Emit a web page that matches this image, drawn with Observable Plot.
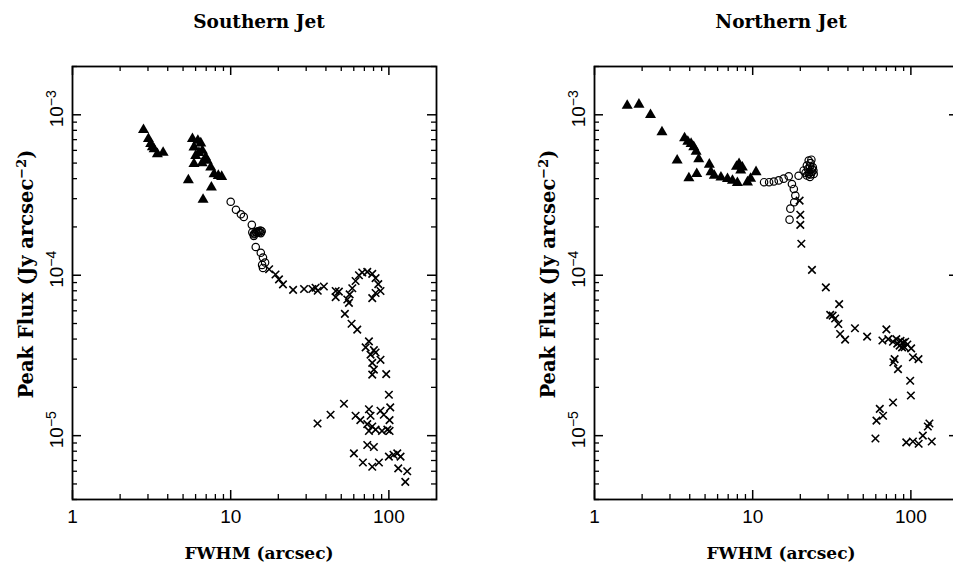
<!DOCTYPE html>
<html>
<head>
<meta charset="utf-8">
<script src="https://cdn.jsdelivr.net/npm/d3@7"></script>
<script src="https://cdn.jsdelivr.net/npm/@observablehq/plot@0.6"></script>
<style>
  html, body { margin: 0; padding: 0; background: #fff; overflow: hidden; }
  #wrap { position: relative; width: 953px; height: 566px; overflow: hidden; background: #fff; }
  .panel { position: absolute; top: 40px; }
  .ttl, .xlab, .ylab { position: absolute; font-family: "DejaVu Serif", serif; font-weight: bold; color: #000; white-space: nowrap; transform: translate(-50%, -50%); }
  .ttl { font-size: 18.5px; top: 21px; }
  .xlab { font-size: 17px; top: 553px; }
  .ylab { font-size: 19.5px; top: 274px; transform: translate(-50%, -50%) rotate(-90deg); }
  .ylab sup { font-size: 13px; }
</style>
</head>
<body>
<div id="wrap"></div>
<script>
// ---------- data ----------
const titles = ["Southern Jet", "Northern Jet"];
const xLabel = "FWHM (arcsec)";
const yLabel = "Peak Flux (Jy arcsec";
const xTickValues = [1, 10, 100];
const yTickValues = [1e-3, 1e-4, 1e-5];
const yTickExponents = ["\u22123", "\u22124", "\u22125"];

// Southern Jet: [FWHM arcsec, peak flux Jy/arcsec^2]
const southTriangles = [
  [2.81,8.06e-4],[3.02,7.08e-4],[3.12,6.59e-4],[3.2,6.3e-4],[3.28,6.12e-4],[3.44,5.70e-4],[3.74,5.81e-4],
  [5.73,7.08e-4],[6.47,6.65e-4],[6.2,6.9e-4],[5.86,6.28e-4],[6.62,5.98e-4],[6.01,5.56e-4],[6.3,5.8e-4],
  [6.95,5.43e-4],[5.86,4.94e-4],[7.1,5.18e-4],[6.6,5.0e-4],[7.48,4.71e-4],[7.85,4.27e-4],[8.35,4.17e-4],
  [8.77,4.11e-4],[5.40,3.92e-4],[7.55,3.53e-4],[6.69,2.96e-4]
];
const southCircles = [
  [10.0,2.87e-4],[10.8,2.56e-4],[11.6,2.40e-4],[12.1,2.31e-4],[13.6,2.06e-4],[13.7,1.85e-4],[14.0,1.80e-4],
  [14.2,1.82e-4],[14.4,1.86e-4],[14.6,1.84e-4],[14.8,1.87e-4],[15.0,1.88e-4],[15.2,1.85e-4],[15.4,1.9e-4],
  [15.7,1.88e-4],[15.5,1.83e-4],[14.0,1.76e-4],[14.4,1.50e-4],[15.5,1.38e-4],[16.0,1.29e-4],[16.5,1.20e-4],
  [16.0,1.11e-4],[15.8,1.16e-4]
];
const southCrosses = [
  [17.5,1.09e-4],[19.2,1.01e-4],[20.2,9.42e-5],[21.4,8.77e-5],[24.8,8.11e-5],[29.1,8.2e-5],[32.8,8.2e-5],
  [34.4,8.36e-5],[38.8,8.5e-5],[35.5,8.0e-5],[46.1,7.98e-5],[48.3,7.9e-5],[46.1,7.3e-5],[54.6,7.06e-5],
  [55.9,6.73e-5],[56.5,7.6e-5],[58.7,8.3e-5],[61.6,9.2e-5],[64.7,1.0e-4],[67.9,1.04e-4],[73.0,1.05e-4],
  [78.5,1.02e-4],[82.4,9.6e-5],[85.7,8.8e-5],[88.5,7.98e-5],[82.4,7.75e-5],[78.5,7.2e-5],[52.7,5.74e-5],
  [58.1,4.98e-5],[63.1,4.58e-5],[74.8,3.87e-5],[71.3,3.55e-5],[80.4,3.41e-5],[76.6,3.2e-5],[82.4,3.3e-5],
  [88.5,2.97e-5],[78.5,2.84e-5],[80.4,2.58e-5],[78.5,2.4e-5],[96.2,2.42e-5],[100,1.8e-5],[102,1.5e-5],
  [52,1.58e-5],[42.8,1.35e-5],[35.4,1.19e-5],[61.6,1.33e-5],[66,1.25e-5],[74.8,1.46e-5],[76.6,1.33e-5],
  [73,1.18e-5],[78.5,1.14e-5],[82.4,1.09e-5],[74.8,1.07e-5],[88.5,1.43e-5],[92.9,1.35e-5],[101,1.25e-5],
  [97.8,1.09e-5],[101,1.07e-5],[90.5,1.07e-5],[73,8.75e-6],[80.4,8.5e-6],[60.1,7.75e-6],[68.5,6.8e-6],
  [78.5,6.4e-6],[86.5,6.8e-6],[100,7.4e-6],[107,7.6e-6],[113,7.75e-6],[118.5,7.4e-6],[114.6,6.25e-6],
  [130.6,6.0e-6],[127,5.15e-6]
];

// Northern Jet
const northTriangles = [
  [1.61,1.14e-3],[1.91,1.16e-3],[2.26,1.0e-3],[2.67,7.8e-4],[3.71,7.15e-4],[3.89,6.8e-4],[4.08,6.6e-4],
  [4.24,6.3e-4],[4.39,5.9e-4],[4.56,5.3e-4],[3.33,5.2e-4],[3.95,4.03e-4],[4.43,4.28e-4],[5.32,4.9e-4],
  [5.45,4.4e-4],[5.72,4.18e-4],[6.3,4.08e-4],[6.93,3.99e-4],[7.45,3.89e-4],[8.0,3.77e-4],[8.2,4.95e-4],
  [8.6,4.7e-4],[8.4,4.5e-4],[7.9,4.75e-4],[9.27,3.8e-4],[9.7,4.0e-4],[10.5,4.4e-4]
];
const northCircles = [
  [11.8,3.8e-4],[12.7,3.8e-4],[13.6,3.84e-4],[14.6,3.9e-4],[15.7,4.0e-4],[16.9,4.14e-4],[17.7,3.7e-4],
  [18.2,3.45e-4],[18.6,3.14e-4],[18.3,2.85e-4],[17.3,2.6e-4],[17.1,2.22e-4],[19.5,4.17e-4],[21.0,4.5e-4],
  [22.0,4.83e-4],[22.6,5.19e-4],[23.2,5.0e-4],[23.7,4.6e-4],[24.3,4.28e-4],[22.0,4.18e-4],[23.0,4.1e-4],
  [22.8,4.4e-4],[23.5,5.25e-4],[22.4,4.6e-4],[23.0,4.8e-4],[23.6,4.4e-4],[24.0,4.7e-4],[22.6,4.3e-4],
  [23.3,4.25e-4],[21.6,4.35e-4],[24.2,4.5e-4]
];
const northCrosses = [
  [19.8,2.92e-4],[20.0,2.38e-4],[20.0,2.06e-4],[20.3,1.57e-4],[23.7,1.08e-4],[29.0,8.4e-5],[35.2,6.6e-5],
  [30.9,5.66e-5],[33.2,5.37e-5],[32.0,5.6e-5],[34.8,4.97e-5],[35.7,4.3e-5],[38.4,3.97e-5],[44.3,4.67e-5],
  [52.9,4.14e-5],[66.1,3.92e-5],[70.0,4.6e-5],[72,4.0e-5],[77.1,3.85e-5],[80.9,4.0e-5],[84.9,3.64e-5],
  [89.1,3.8e-5],[91.3,3.56e-5],[95,3.7e-5],[100.4,3.5e-5],[103,3.08e-5],[111.7,3.0e-5],[78.9,3.0e-5],
  [77.5,2.87e-5],[82.9,2.6e-5],[99.0,2.2e-5],[100,1.78e-5],[77.1,1.61e-5],[63.6,1.47e-5],[66.7,1.33e-5],
  [60.6,1.24e-5],[59.7,9.6e-6],[93.5,9.08e-6],[103,9.2e-6],[112,8.9e-6],[119,1.0e-5],[128,1.14e-5],
  [131,1.19e-5],[135.5,9.2e-6],[86,3.9e-5],[82,3.75e-5],[88,3.55e-5],[92,3.85e-5]
];

const panels = [
  {tri: southTriangles, circ: southCircles, cross: southCrosses},
  {tri: northTriangles, circ: northCircles, cross: northCrosses}
];

// minor ticks (log decades)
const xMinor = [2,3,4,5,6,7,8,9,20,30,40,50,60,70,80,90];
const yMinor = [4e-6,5e-6,6e-6,7e-6,8e-6,9e-6,2e-5,3e-5,4e-5,5e-5,6e-5,7e-5,8e-5,9e-5,
                2e-4,3e-4,4e-4,5e-4,6e-4,7e-4,8e-4,9e-4,2e-3];

// ---------- layout ----------
const wrap = document.getElementById("wrap");
const H = 526, mTop = 26, mBottom = 67, plotW = 364;
const plotH = H - mTop - mBottom;
const layouts = [
  {left: 0, width: 476, mLeft: 72, mRight: 40, center: 259, ylab: 26},
  {left: 476, width: 500, mLeft: 118, mRight: 18, center: 781, ylab: 548}
];

panels.forEach((p, i) => {
  const L = layouts[i];
  const chart = Plot.plot({
    width: L.width, height: H,
    marginTop: mTop, marginBottom: mBottom, marginLeft: L.mLeft, marginRight: L.mRight,
    x: {type: "log", domain: [1, 200], axis: null},
    y: {type: "log", domain: [4e-6, 2e-3], axis: null},
    style: {background: "white", color: "black", fontFamily: "'Liberation Sans', Arial, sans-serif"},
    marks: [
      // minor & major ticks on all four sides, pointing inward
      Plot.tickX(xMinor, {x: d => d, insetTop: plotH - 5, stroke: "black", strokeWidth: 1.3}),
      Plot.tickX(xMinor, {x: d => d, insetBottom: plotH - 5, stroke: "black", strokeWidth: 1.3}),
      Plot.tickX(xTickValues, {x: d => d, insetTop: plotH - 9, stroke: "black", strokeWidth: 1.5}),
      Plot.tickX(xTickValues, {x: d => d, insetBottom: plotH - 9, stroke: "black", strokeWidth: 1.5}),
      Plot.tickY(yMinor, {y: d => d, insetRight: plotW - 5, stroke: "black", strokeWidth: 1.3}),
      Plot.tickY(yMinor, {y: d => d, insetLeft: plotW - 5, stroke: "black", strokeWidth: 1.3}),
      Plot.tickY(yTickValues, {y: d => d, insetRight: plotW - 9, stroke: "black", strokeWidth: 1.5}),
      Plot.tickY(yTickValues, {y: d => d, insetLeft: plotW - 9, stroke: "black", strokeWidth: 1.5}),
      Plot.frame({stroke: "black", strokeWidth: 1.8}),
      // tick labels
      Plot.text(xTickValues, {x: d => d, frameAnchor: "bottom", text: d => String(d),
        lineAnchor: "top", dy: 10, fontSize: 19, fill: "black"}),
      Plot.text(yTickValues, {y: d => d, frameAnchor: "left", text: (d, k) => "10" + yTickExponents[k],
        rotate: -90, textAnchor: "middle", lineAnchor: "bottom", dx: -10, dy: -6, fontSize: 19, fill: "black",
        className: "ytick-label"}),
      // data
      Plot.dot(p.tri, {x: d => d[0], y: d => d[1], symbol: "triangle", r: 4.1, fill: "black", stroke: "none"}),
      Plot.dot(p.circ, {x: d => d[0], y: d => d[1], symbol: "circle", r: 3.7, fill: "none", stroke: "black", strokeWidth: 1.2}),
      Plot.dot(p.cross, {x: d => d[0], y: d => d[1], symbol: "times", r: 3.5, stroke: "black", strokeWidth: 1.6})
    ]
  });
  // render exponents as superscripts
  chart.querySelectorAll("text").forEach(t => {
    const s = t.textContent;
    const k = yTickExponents.findIndex(e => s === "10" + e);
    if (k >= 0) {
      t.textContent = "10";
      const ts = document.createElementNS("http://www.w3.org/2000/svg", "tspan");
      ts.setAttribute("dy", "-0.5em");
      ts.setAttribute("font-size", "14");
      ts.textContent = yTickExponents[k];
      t.appendChild(ts);
    }
  });
  chart.classList.add("panel");
  chart.style.left = L.left + "px";
  wrap.appendChild(chart);

  const t = document.createElement("div");
  t.className = "ttl"; t.textContent = titles[i]; t.style.left = L.center + "px";
  wrap.appendChild(t);
  const xl = document.createElement("div");
  xl.className = "xlab"; xl.textContent = xLabel; xl.style.left = L.center + "px";
  wrap.appendChild(xl);
  const yl = document.createElement("div");
  yl.className = "ylab"; yl.innerHTML = yLabel + "<sup>\u22122</sup>)"; yl.style.left = L.ylab + "px";
  wrap.appendChild(yl);
});
</script>
</body>
</html>
